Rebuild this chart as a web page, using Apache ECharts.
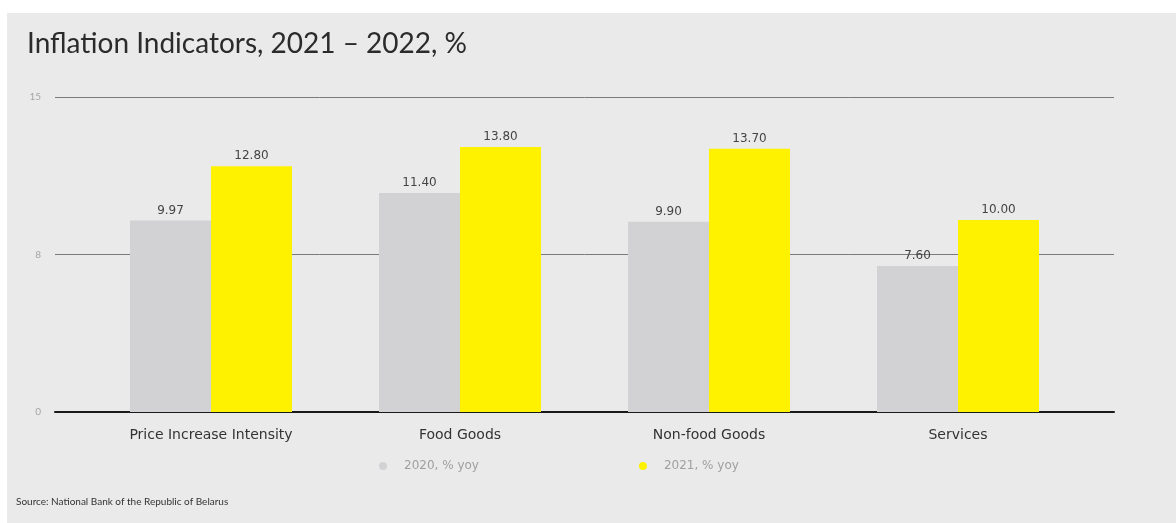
<!DOCTYPE html>
<html>
<head>
<meta charset="utf-8">
<script src="https://cdn.jsdelivr.net/npm/echarts@6/dist/echarts.min.js"></script>
<style>
  html, body { margin: 0; padding: 0; background: #ffffff; width: 1176px; height: 523px; overflow: hidden; }
  #chart { position: absolute; left: 7px; top: 13px; width: 1169px; height: 510px; background: #eaeaea; }
</style>
</head>
<body>
<div id="chart"></div>
<script>
// Inflation indicators by group, % year over year
const categories = ['Price Increase Intensity', 'Food Goods', 'Non-food Goods', 'Services'];
const series2020 = [9.97, 11.40, 9.90, 7.60];
const series2021 = [12.80, 13.80, 13.70, 10.00];
const seriesNames = ['2020, % yoy', '2021, % yoy'];
const yTickLabels = ['0', '8', '15'];

const FONT = 'Lato, "DejaVu Sans", sans-serif';
const WIDE = '"DejaVu Sans", Lato, sans-serif';
const chart = echarts.init(document.getElementById('chart'));

const valueLabel = {
  show: true,
  position: 'top',
  distance: 4,
  fontFamily: WIDE,
  fontSize: 12,
  color: '#444',
  formatter: p => p.value.toFixed(2)
};

chart.setOption({
  animation: false,
  backgroundColor: 'transparent',
  title: {
    text: 'Inflation Indicators, 2021 – 2022, %',
    left: 20,
    top: 17,
    padding: 0,
    textStyle: { fontFamily: FONT, fontSize: 28, fontWeight: 'normal', color: '#2b2b2b' }
  },
  graphic: [{
    type: 'text',
    left: 9,
    top: 484,
    style: {
      text: 'Source: National Bank of the Republic of Belarus',
      font: '10px ' + FONT,
      fill: '#333'
    }
  }],
  legend: {
    left: 372,
    top: 447,
    padding: 0,
    itemGap: 160,
    itemWidth: 8,
    itemHeight: 8,
    icon: 'circle',
    textStyle: { fontFamily: WIDE, fontSize: 12, color: '#a0a0a0', padding: [0, 0, 0, 12] },
    data: seriesNames
  },
  grid: [
    // wide frame: gridlines, y labels and the baseline
    { left: 48, right: 62, top: 84, bottom: 111 },
    // bars
    { left: 79.5, right: 93.5, top: 84, bottom: 111 }
  ],
  xAxis: [
    {
      gridIndex: 0, type: 'value', min: 0, max: 1,
      axisLine: { show: true, onZero: false, lineStyle: { color: '#1a1a1a', width: 2 } },
      axisTick: { show: false }, axisLabel: { show: false }, splitLine: { show: false }
    },
    {
      gridIndex: 1, type: 'category', data: categories,
      axisLine: { show: false }, axisTick: { show: false },
      axisLabel: { margin: 16, fontFamily: WIDE, fontSize: 14, color: '#333' }
    }
  ],
  yAxis: [
    {
      gridIndex: 0, type: 'value', min: 0, max: 16.4, interval: 8.2,
      axisLine: { show: false }, axisTick: { show: false },
      axisLabel: {
        margin: 14, fontFamily: FONT, fontSize: 10, color: '#a5a5a5',
        formatter: (v, i) => yTickLabels[i]
      },
      splitLine: { lineStyle: { color: '#7a7a7a', width: 1 } }
    },
    {
      gridIndex: 1, type: 'value', min: 0, max: 16.4, interval: 8.2,
      show: false, splitLine: { show: false }
    }
  ],
  series: [
    {
      name: seriesNames[0], type: 'bar', xAxisIndex: 1, yAxisIndex: 1,
      data: series2020, barWidth: 81, barGap: '0%',
      itemStyle: { color: '#d2d2d4' }, label: valueLabel
    },
    {
      name: seriesNames[1], type: 'bar', xAxisIndex: 1, yAxisIndex: 1,
      data: series2021, barWidth: 81, barGap: '0%',
      itemStyle: { color: '#fff200' }, label: valueLabel
    }
  ]
});
</script>
</body>
</html>
